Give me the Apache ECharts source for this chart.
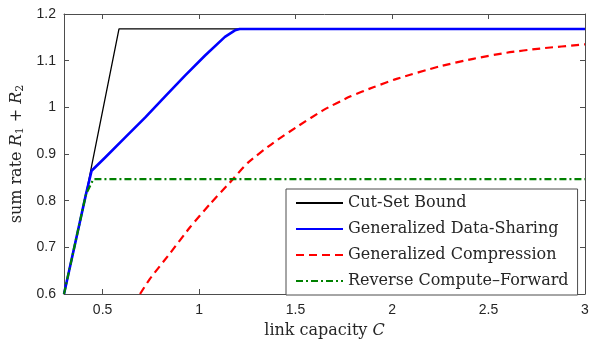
<!DOCTYPE html>
<html>
<head>
<meta charset="utf-8">
<script src="https://cdn.jsdelivr.net/npm/echarts@6/dist/echarts.min.js"></script>
<style>
  html, body { margin: 0; padding: 0; background: #fff; }
  #chart { width: 592px; height: 344px; }
</style>
</head>
<body>
<div id="chart"></div>
<script>
// values, [C, R1 + R2]
const cutSet = [[0.3, 0.6], [0.414, 0.814], [0.585, 1.168], [3, 1.168]]
const dataSharing = [
  [0.3, 0.6], [0.414, 0.814], [0.443, 0.864], [0.512, 0.892], [0.616, 0.935],
  [0.72, 0.978], [0.823, 1.023], [0.927, 1.068], [1.031, 1.111], [1.134, 1.151],
  [1.186, 1.165], [1.21, 1.168], [3, 1.168]
]
const compression = [
  [0.694, 0.6], [0.746, 0.633], [0.849, 0.687], [0.953, 0.743], [1.057, 0.793],
  [1.16, 0.839], [1.255, 0.882], [1.385, 0.924], [1.514, 0.96], [1.644, 0.994],
  [1.782, 1.023], [1.903, 1.043], [2.024, 1.061], [2.249, 1.088], [2.421, 1.104],
  [2.594, 1.117], [2.767, 1.126], [3, 1.135]
]
const reverseCF = [[0.3, 0.6], [0.414, 0.814], [0.452, 0.846], [3, 0.846]]

const xTicks = [0.5, 1, 1.5, 2, 2.5, 3]
const seriesNames = [
  "Cut-Set Bound",
  "Generalized Data-Sharing",
  "Generalized Compression",
  "Reverse Compute\u2013Forward"
]

const chart = echarts.init(document.getElementById("chart"))

const axisColor = "#4d4d4d"
const labelColor = "#262626"
const serif = "'DejaVu Serif', serif"
const sans = "'Liberation Sans', Arial, sans-serif"

const option = {
  animation: false,
  backgroundColor: "#fff",
  grid: { left: 64, right: 7, top: 14, bottom: 49 },
  xAxis: [
    {
      type: "value",
      min: 0.3,
      max: 3,
      name: "link capacity {i|C}",
      nameLocation: "middle",
      nameGap: 29,
      nameTextStyle: {
        fontFamily: serif,
        fontSize: 16,
        color: labelColor,
        rich: { i: { fontFamily: serif, fontSize: 16, fontStyle: "italic", color: labelColor } }
      },
      axisLine: { onZero: false, lineStyle: { color: axisColor, width: 1 } },
      axisTick: { inside: true, length: 5, customValues: xTicks, lineStyle: { color: axisColor } },
      axisLabel: { customValues: xTicks, margin: 9, fontFamily: sans, fontSize: 14, color: labelColor },
      splitLine: { show: false }
    },
    {
      type: "value",
      position: "top",
      min: 0.3,
      max: 3,
      axisLine: { onZero: false, lineStyle: { color: axisColor, width: 1 } },
      axisTick: { inside: true, length: 5, customValues: xTicks, lineStyle: { color: axisColor } },
      axisLabel: { show: false },
      splitLine: { show: false }
    }
  ],
  yAxis: [
    {
      type: "value",
      min: 0.6,
      max: 1.2,
      interval: 0.1,
      name: "{n|sum rate }{i|R}{s|1}{n| + }{i|R}{s|2}",
      nameLocation: "middle",
      nameGap: 38,
      nameTextStyle: {
        color: labelColor,
        rich: {
          n: { fontFamily: serif, fontSize: 16, color: labelColor },
          i: { fontFamily: serif, fontSize: 16, fontStyle: "italic", color: labelColor },
          s: { fontFamily: serif, fontSize: 11, color: labelColor, verticalAlign: "bottom", padding: [7, 0, 0, 0] }
        }
      },
      axisLine: { show: true, onZero: false, lineStyle: { color: axisColor, width: 1 } },
      axisTick: { show: true, inside: true, length: 5, lineStyle: { color: axisColor } },
      axisLabel: { margin: 8, fontFamily: sans, fontSize: 14, color: labelColor },
      splitLine: { show: false }
    },
    {
      type: "value",
      position: "right",
      min: 0.6,
      max: 1.2,
      interval: 0.1,
      axisLine: { show: true, onZero: false, lineStyle: { color: axisColor, width: 1 } },
      axisTick: { show: true, inside: true, length: 5, lineStyle: { color: axisColor } },
      axisLabel: { show: false },
      splitLine: { show: false }
    }
  ],
  legend: {
    orient: "vertical",
    left: 286,
    top: 189,
    padding: [6, 9, 6, 9],
    itemWidth: 47,
    itemHeight: 14,
    itemGap: 10,
    borderColor: axisColor,
    borderWidth: 1,
    backgroundColor: "#fff",
    borderRadius: 0,
    itemStyle: { opacity: 0 },
    textStyle: { fontFamily: serif, fontSize: 16, color: labelColor },
    data: seriesNames
  },
  series: [
    {
      name: seriesNames[0],
      type: "line",
      data: cutSet,
      symbol: "none",
      lineStyle: { color: "#000", width: 1.3 },
      itemStyle: { color: "#000" }
    },
    {
      name: seriesNames[1],
      type: "line",
      data: dataSharing,
      symbol: "none",
      lineStyle: { color: "#0000ff", width: 2.6 },
      itemStyle: { color: "#0000ff" }
    },
    {
      name: seriesNames[2],
      type: "line",
      data: compression,
      symbol: "none",
      smooth: 0.2,
      lineStyle: { color: "#ff0000", width: 2.2, type: [8, 5] },
      itemStyle: { color: "#ff0000" }
    },
    {
      name: seriesNames[3],
      type: "line",
      data: reverseCF,
      symbol: "none",
      lineStyle: { color: "#008000", width: 2.2, type: [7, 3, 2, 3] },
      itemStyle: { color: "#008000" }
    }
  ]
}

chart.setOption(option)
</script>
</body>
</html>
